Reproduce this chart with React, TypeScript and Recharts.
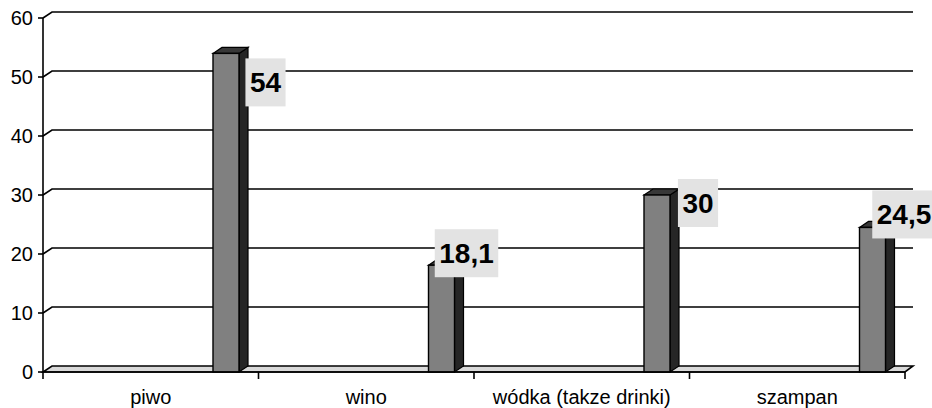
import React from 'react';
import { BarChart, Bar, XAxis, YAxis, CartesianGrid, ReferenceLine, LabelList } from 'recharts';

const categories = ['piwo', 'wino', 'wódka (takze drinki)', 'szampan'];
const values = [54, 18.1, 30, 24.5];
const valueLabels = ['54', '18,1', '30', '24,5'];
const yTicks = [0, 10, 20, 30, 40, 50, 60];

// label placement (style): offset of the label centre from the bar's front top-right corner
const labelDx = [26.5, 12, 28, 18.5];
const labelDy = [29, -12, 8, -13];

const FONT = '"Liberation Sans", Arial, Helvetica, sans-serif';
const DEPTH_X = 9;
const DEPTH_Y = 6;
const BAR_SHIFT = 75;
const LW = 1.6;

const data = categories.map((name, i) => ({ name, value: values[i], label: valueLabels[i] }));

const gridLine = (p: any) => {
  const { x1, y1, x2 } = p;
  const isBottom = p.y != null && p.height != null && Math.abs(y1 - (p.y + p.height)) < 1;
  if (isBottom) {
    return (
      <g key={p.key}>
        <polygon
          points={`${x1},${y1} ${x2},${y1} ${x2 + DEPTH_X - 1},${y1 - DEPTH_Y} ${x1 + DEPTH_X},${y1 - DEPTH_Y}`}
          fill="#d9d9d9"
          stroke="#000"
          strokeWidth={LW}
        />
      </g>
    );
  }
  return (
    <path
      key={p.key}
      d={`M${x1},${y1} L${x1 + DEPTH_X},${y1 - DEPTH_Y} L${x2 + DEPTH_X - 1},${y1 - DEPTH_Y}`}
      fill="none"
      stroke="#000"
      strokeWidth={LW}
    />
  );
};

const BarShape = (p: any) => {
  const { y, width, height } = p;
  if (height == null || width == null) return null;
  const x = p.x + BAR_SHIFT;
  const r = x + width;
  const b = y + height;
  return (
    <g>
      <polygon
        points={`${r},${y} ${r + DEPTH_X},${y - DEPTH_Y} ${r + DEPTH_X},${b - DEPTH_Y} ${r},${b}`}
        fill="#262626"
        stroke="#000"
        strokeWidth={1.2}
      />
      <polygon
        points={`${x},${y} ${x + DEPTH_X},${y - DEPTH_Y} ${r + DEPTH_X},${y - DEPTH_Y} ${r},${y}`}
        fill="#383838"
        stroke="#000"
        strokeWidth={1.2}
      />
      <rect x={x} y={y} width={width} height={height} fill="#808080" stroke="#000" strokeWidth={1.4} />
    </g>
  );
};

const charW = (c: string) => (c === ',' ? 0.278 : 0.556);

const renderLabel = (p: any) => {
  const vb = p.viewBox && p.viewBox.x != null ? p.viewBox : p;
  const i = p.index;
  const txt = String(p.value);
  const fs = 28;
  const tw = txt.split('').reduce((s, c) => s + charW(c) * fs, 0);
  const bw = tw + 9;
  const bh = 48;
  const cx = vb.x + vb.width + BAR_SHIFT + labelDx[i];
  const cy = vb.y + labelDy[i];
  return (
    <g key={`lbl-${i}`}>
      <rect x={cx - bw / 2} y={cy - bh / 2} width={bw} height={bh} fill="#e3e3e3" />
      <text
        x={cx}
        y={cy + 0.358 * fs}
        textAnchor="middle"
        fontFamily={FONT}
        fontWeight="bold"
        fontSize={fs}
        fill="#000"
      >
        {txt}
      </text>
    </g>
  );
};

const tickMark = (p: any) => {
  const yb = Math.max(p.y1, p.y2);
  return <line x1={p.x1} y1={yb} x2={p.x1} y2={yb + 7} stroke="#000" strokeWidth={LW} />;
};

const XTick = (p: any) => {
  const { x, y, payload } = p;
  return (
    <text x={x} y={y + 32} textAnchor="middle" fontFamily={FONT} fontSize={20} fill="#000">
      {payload.value}
    </text>
  );
};

export default function App() {
  return (
    <div style={{ position: 'absolute', left: 0, top: 0, width: 932, height: 408, background: '#fff' }}>
      <BarChart
        width={932}
        height={408}
        data={data}
        margin={{ top: 18, right: 27, bottom: 0, left: 0 }}
        barCategoryGap={0}
      >
        <CartesianGrid vertical={false} horizontal={gridLine} />
        <XAxis
          dataKey="name"
          height={36}
          interval={0}
          tickLine={false}
          tickSize={0}
          tickMargin={0}
          axisLine={{ stroke: '#000', strokeWidth: LW }}
          tick={<XTick />}
        />
        <YAxis
          width={43}
          domain={[0, 60]}
          ticks={yTicks}
          interval={0}
          tickSize={5}
          tickMargin={5}
          axisLine={{ stroke: '#000', strokeWidth: LW }}
          tickLine={{ stroke: '#000', strokeWidth: LW }}
          tick={{ fill: '#000', fontSize: 20, fontFamily: FONT }}
        />
        <ReferenceLine x={categories[0]} position="start" stroke="#000" shape={tickMark} />
        {categories.map((c) => (
          <ReferenceLine key={c} x={c} position="end" stroke="#000" shape={tickMark} />
        ))}
        <Bar dataKey="value" barSize={26} isAnimationActive={false} shape={<BarShape />}>
          <LabelList dataKey="label" content={renderLabel} />
        </Bar>
      </BarChart>
    </div>
  );
}
